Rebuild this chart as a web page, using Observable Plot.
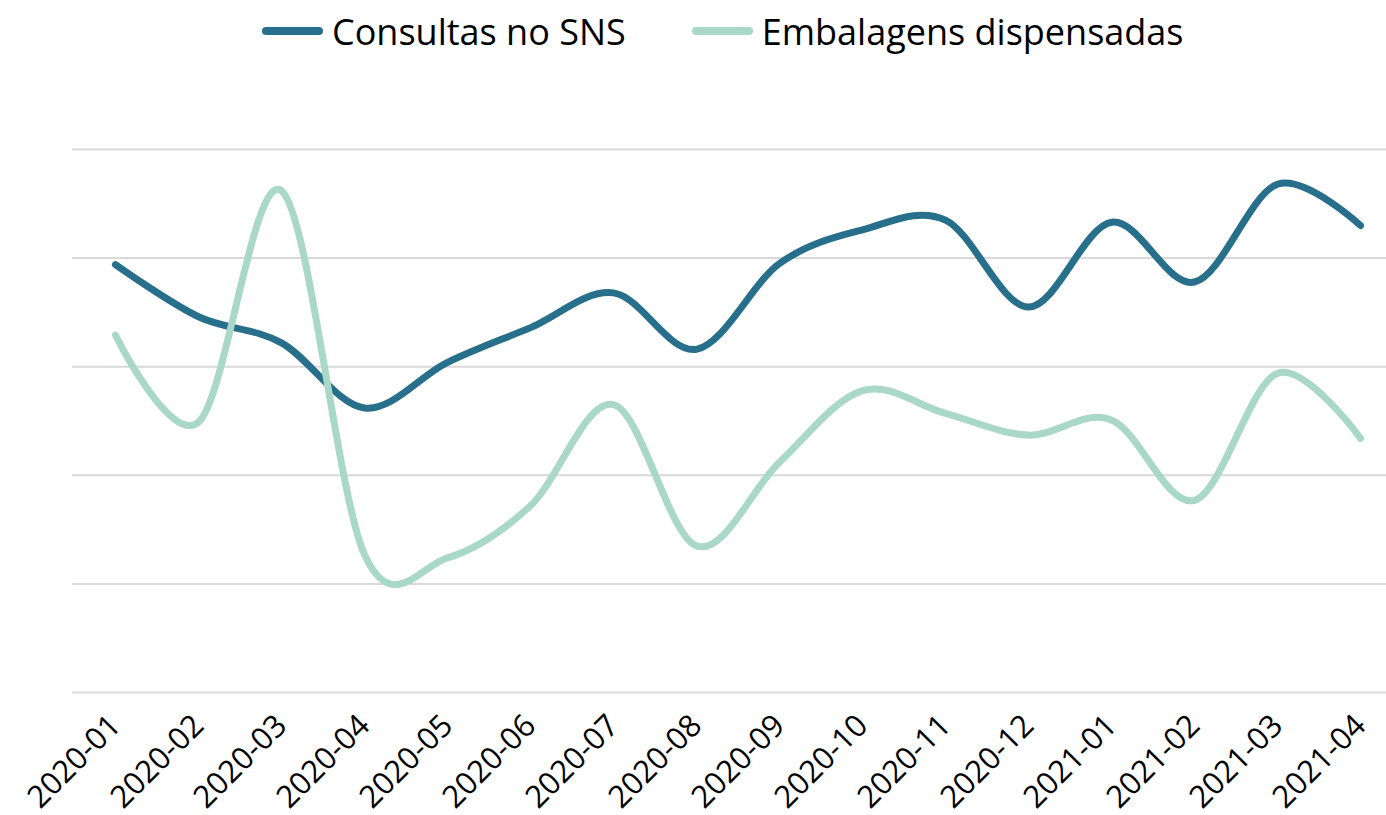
<!DOCTYPE html>
<html>
<head>
<meta charset="utf-8">
<script src="https://cdn.jsdelivr.net/npm/d3@7"></script>
<script src="https://cdn.jsdelivr.net/npm/@observablehq/plot@0.6"></script>
<style>
  html, body { margin: 0; padding: 0; background: #fff; }
  #wrap { position: relative; width: 1386px; height: 815px; overflow: hidden; }
  #legend { position: absolute; left: 262px; top: 8px; height: 46px; display: flex; align-items: center;
            font-family: "Open Sans", sans-serif; font-size: 36px; color: #000; white-space: nowrap; }
  .item { display: flex; align-items: center; }
  .sw { display: inline-block; width: 61px; height: 8px; border-radius: 4px; margin-right: 9px; }
  #chart { position: absolute; left: 0; top: 0; }
</style>
</head>
<body>
<div id="wrap">
  <div id="chart"></div>
  <div id="legend"></div>
</div>
<script>
const months = ["2020-01","2020-02","2020-03","2020-04","2020-05","2020-06","2020-07","2020-08",
                "2020-09","2020-10","2020-11","2020-12","2021-01","2021-02","2021-03","2021-04"];
const consultas = [3.94, 3.46, 3.22, 2.62, 3.04, 3.36, 3.68, 3.16, 3.95, 4.26, 4.35, 3.55, 4.33, 3.78, 4.68, 4.30];
const embalagens = [3.29, 2.49, 4.62, 1.27, 1.24, 1.72, 2.65, 1.35, 2.12, 2.78, 2.57, 2.37, 2.51, 1.77, 2.94, 2.34];
const seriesNames = ["Consultas no SNS", "Embalagens dispensadas"];
const seriesColors = ["#276f8b", "#a9d8c8"];
const gridValues = [0, 1, 2, 3, 4, 5];

const rows = [];
months.forEach((m, i) => {
  rows.push({month: m, value: consultas[i], series: seriesNames[0]});
  rows.push({month: m, value: embalagens[i], series: seriesNames[1]});
});

const chart = Plot.plot({
  width: 1386,
  height: 815,
  marginLeft: 72,
  marginRight: 0,
  marginTop: 149,
  marginBottom: 123,
  style: {fontFamily: "Open Sans, sans-serif", background: "transparent"},
  x: {type: "point", domain: months, range: [113, 1361], padding: 0},
  y: {domain: [0, 5]},
  color: {domain: seriesNames, range: seriesColors},
  marks: [
    Plot.ruleY(gridValues, {stroke: "#d9d9d9", strokeWidth: 2, strokeOpacity: 1}),
    Plot.axisY({ticks: [], label: null, tickSize: 0}),
    Plot.axisX({tickRotate: -45, tickSize: 0, tickPadding: 28, fontSize: 31, label: null, fill: "#000"}),
    Plot.line(rows, {x: "month", y: "value", z: "series", stroke: "series", strokeWidth: 7,
                     curve: "cardinal", strokeLinecap: "round", strokeLinejoin: "round"})
  ]
});
document.getElementById("chart").appendChild(chart);

const legend = document.getElementById("legend");
seriesNames.forEach((name, i) => {
  const item = document.createElement("div");
  item.className = "item";
  if (i > 0) item.style.marginLeft = "66px";
  const sw = document.createElement("span");
  sw.className = "sw";
  sw.style.background = seriesColors[i];
  const t = document.createElement("span");
  t.textContent = name;
  item.appendChild(sw);
  item.appendChild(t);
  legend.appendChild(item);
});
</script>
</body>
</html>
